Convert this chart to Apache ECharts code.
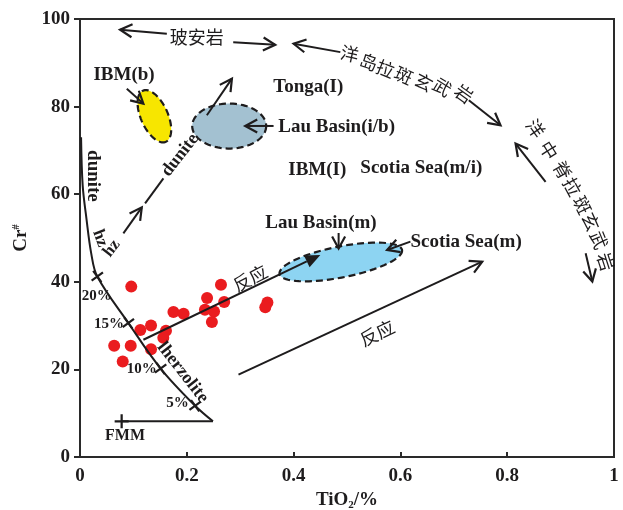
<!DOCTYPE html>
<html>
<head>
<meta charset="utf-8">
<script src="https://cdn.jsdelivr.net/npm/echarts@6/dist/echarts.min.js"></script>
<style>
html, body { margin: 0; padding: 0; background: #fff; }
#main { width: 623px; height: 510px; }
</style>
</head>
<body>
<div id="main"></div>
<script>
// 样品 TiO2(%) - Cr#
var sampleTiO2 = [0.096, 0.264, 0.238, 0.270, 0.175, 0.194, 0.234, 0.251, 0.247, 0.133, 0.113, 0.161, 0.156, 0.064, 0.095, 0.133, 0.080, 0.351, 0.347];
var sampleCr = [38.9, 39.3, 36.3, 35.4, 33.1, 32.7, 33.6, 33.2, 30.8, 30.0, 29.0, 28.8, 27.2, 25.4, 25.4, 24.6, 21.8, 35.3, 34.2];

// 部分熔融曲线 (FMM -> dunite)
var meltTiO2 = [0.249, 0.2156, 0.151, 0.0905, 0.0324, 0.021, 0.012, 0.005, 0.002];
var meltCr = [8.15, 11.7, 20.2, 30.6, 41.2, 46.5, 54.5, 62.0, 73.0];
var fmmLine = [[0.078, 8.15], [0.249, 8.15]];
// 熔融程度刻度
var meltMarkLabels = ["5%", "10%", "15%", "20%"];
var meltMarkTiO2 = [0.2156, 0.151, 0.0905, 0.0324];
var meltMarkCr = [11.7, 20.2, 30.6, 41.2];

var xTicks = [0, 0.2, 0.4, 0.6, 0.8, 1];
var yTicks = [0, 20, 40, 60, 80, 100];

// 区域椭圆: 中心(数据), 半轴(px), 旋转角
var ellipses = [
  { c: [0.1393, 77.8], a: 28, b: 13.5, rot: 65.9, color: "#f7e600" },
  { c: [0.2794, 75.56], a: 37, b: 22.5, rot: 0, color: "#a3c1d1" },
  { c: [0.4884, 44.53], a: 62.4, b: 15.5, rot: -11.1, color: "#8dd4f2" },
];

// 箭头: [x1, y1, x2, y2, 实心]
var arrows = [
  [0.0876, 84.1, 0.1187, 80.68, 0],
  [0.2376, 78.02, 0.2845, 86.38, 0],
  [0.3625, 75.58, 0.3094, 75.58, 0],
  [0.4843, 51.14, 0.4843, 47.6, 0],
  [0.6188, 49.16, 0.5751, 47.27, 0],
  [0.1187, 26.77, 0.45, 46.13, 1],
  [0.2968, 18.79, 0.7532, 44.6, 0],
  [0.0812, 51.07, 0.1157, 56.99, 0],
  [0.1626, 96.63, 0.075, 97.54, 0],
  [0.2869, 94.71, 0.3656, 94.12, 0],
  [0.4875, 92.44, 0.4, 94.35, 0],
  [0.7281, 81.44, 0.7875, 75.74, 0],
  [0.8719, 62.82, 0.8157, 71.57, 0],
  [0.9469, 46.51, 0.9594, 40.05, 0],
];
var duniteSeg = [[0.1219, 57.9], [0.1562, 63.6]];

var serif = "Liberation Serif";
var cjk = "Noto Sans CJK SC";
var ink = "#1e1c1d";

// 文字注记
var texts = [
  { v: [0.0825, 87.1], t: "IBM(b)" },
  { v: [0.3619, 84.46], t: "Tonga(I)", left: true },
  { v: [0.3713, 75.35], t: "Lau Basin(i/b)", left: true },
  { v: [0.39, 65.49], t: "IBM(I)", left: true },
  { v: [0.525, 65.95], t: "Scotia Sea(m/i)", left: true },
  { v: [0.3469, 53.42], t: "Lau Basin(m)", left: true },
  { v: [0.6188, 49.16], t: "Scotia Sea(m)", left: true },
  { v: [0.0313, 36.63], t: "20%", size: 15 },
  { v: [0.0544, 30.34], t: "15%", size: 15 },
  { v: [0.1156, 20.09], t: "10%", size: 15 },
  { v: [0.1828, 12.35], t: "5%", size: 15 },
  { v: [0.0844, 4.74], t: "FMM", size: 16 },
  { v: [0.1922, 19.3], t: "lherzolite", rot: -52, size: 18 },
  { v: [0.0249, 64.17], t: "dunite", rot: -90, size: 19 },
  { v: [0.0375, 49.93], t: "hz", rot: -70, size: 17 },
  { v: [0.0594, 47.65], t: "hz", rot: 52, size: 17 },
  { v: [0.1875, 68.91], t: "dunite", rot: 52, size: 18 },
  { v: [0.2188, 95.85], t: "玻安岩", cn: true },
  { v: [0.3188, 40.82], t: "反应", rot: 27, cn: true },
  { v: [0.5563, 28.29], t: "反应", rot: 25, cn: true },
];
var oibChars = ["洋", "岛", "拉", "斑", "玄", "武", "岩"];
var oibPos = [[0.505, 92.07, -12], [0.5406, 90.16, -18], [0.5719, 88.66, -22], [0.6062, 87.13, -25], [0.6437, 85.6, -28], [0.6782, 84.47, -32], [0.7187, 82.96, -36]];
var morbChars = ["洋", "中", "脊", "拉", "斑", "玄", "武", "岩"];
var morbPos = [[0.8532, 74.99, -55], [0.8781, 70.05, -58], [0.9032, 65.49, -60], [0.922, 61.69, -62], [0.9407, 57.52, -64], [0.9563, 53.71, -66], [0.9719, 49.54, -68], [0.9844, 44.6, -72]];

oibChars.forEach(function (c, i) {
  texts.push({ v: [oibPos[i][0], oibPos[i][1]], t: c, rot: oibPos[i][2], cn: true });
});
morbChars.forEach(function (c, i) {
  texts.push({ v: [morbPos[i][0], morbPos[i][1]], t: c, rot: morbPos[i][2], cn: true });
});

var chart = echarts.init(document.getElementById("main"));

function renderEllipse(params, api) {
  var e = ellipses[params.dataIndex];
  var c = api.coord([api.value(0), api.value(1)]);
  var th = (e.rot * Math.PI) / 180;
  var pts = [];
  for (var i = 0; i < 90; i++) {
    var t = (i / 90) * 2 * Math.PI;
    var ex = e.a * Math.cos(t), ey = e.b * Math.sin(t);
    pts.push([c[0] + ex * Math.cos(th) - ey * Math.sin(th), c[1] + ex * Math.sin(th) + ey * Math.cos(th)]);
  }
  return {
    type: "polygon",
    shape: { points: pts },
    style: { fill: e.color, stroke: ink, lineWidth: 2.2, lineDash: [7, 4] },
  };
}

function renderArrow(params, api) {
  var a = api.coord([api.value(0), api.value(1)]);
  var b = api.coord([api.value(2), api.value(3)]);
  var filled = api.value(4) === 1;
  var ang = Math.atan2(b[1] - a[1], b[0] - a[0]);
  var L = filled ? 15 : 12, W = 6.5;
  var bx = b[0] - L * Math.cos(ang), by = b[1] - L * Math.sin(ang);
  var l = [bx + W * Math.sin(ang), by - W * Math.cos(ang)];
  var r = [bx - W * Math.sin(ang), by + W * Math.cos(ang)];
  var kids = [{
    type: "line",
    shape: { x1: a[0], y1: a[1], x2: filled ? bx : b[0], y2: filled ? by : b[1] },
    style: { stroke: ink, lineWidth: 2 },
  }];
  if (filled) {
    kids.push({ type: "polygon", shape: { points: [b, l, r] }, style: { fill: ink } });
  } else {
    kids.push({ type: "polyline", shape: { points: [l, b, r] }, style: { stroke: ink, lineWidth: 2.2, fill: null } });
  }
  return { type: "group", children: kids };
}

var option = {
  animation: false,
  grid: {
    left: 80, right: 9, top: 19, bottom: 53,
    outerBoundsMode: "none",
    show: true, borderColor: "#2a2a2a", borderWidth: 2,
  },
  xAxis: {
    type: "value",
    min: xTicks[0], max: xTicks[xTicks.length - 1], interval: 0.2,
    name: "{a|TiO}{s|2}{a|/%}",
    nameLocation: "middle",
    nameGap: 31,
    nameTextStyle: {
      rich: {
        a: { fontFamily: serif, fontWeight: "bold", fontSize: 19, color: ink },
        s: { fontFamily: serif, fontWeight: "bold", fontSize: 11, color: ink, padding: [10, 0, 0, 0] },
      },
    },
    splitLine: { show: false },
    axisLine: { onZero: false, lineStyle: { color: "#2a2a2a", width: 2 } },
    axisTick: { inside: true, length: 5, lineStyle: { color: "#2a2a2a", width: 2 } },
    axisLabel: { margin: 10, fontFamily: serif, fontWeight: "bold", fontSize: 19, color: ink },
  },
  yAxis: {
    type: "value",
    min: yTicks[0], max: yTicks[yTicks.length - 1], interval: 20,
    name: "{a|Cr}{s|#}",
    nameLocation: "middle",
    nameGap: 41,
    nameTextStyle: {
      rich: {
        a: { fontFamily: serif, fontWeight: "bold", fontSize: 19, color: ink },
        s: { fontFamily: serif, fontWeight: "bold", fontSize: 11, color: ink, padding: [0, 0, 9, 0] },
      },
    },
    splitLine: { show: false },
    axisLine: { onZero: false, lineStyle: { color: "#2a2a2a", width: 2 } },
    axisTick: { length: 6, lineStyle: { color: "#2a2a2a", width: 2 } },
    axisLabel: { margin: 10, fontFamily: serif, fontWeight: "bold", fontSize: 19, color: ink },
  },
  series: [
    {
      name: "ellipse",
      type: "custom",
      renderItem: renderEllipse,
      data: ellipses.map(function (e) { return e.c; }),
      clip: false,
      silent: true,
      z: 1,
    },
    {
      name: "samples",
      type: "scatter",
      symbolSize: 12,
      itemStyle: { color: "#ea1c1f", opacity: 1 },
      data: sampleTiO2.map(function (x, i) { return [x, sampleCr[i]]; }),
      z: 2,
    },
    {
      name: "melt",
      type: "line",
      smooth: 0.35,
      symbol: "none",
      lineStyle: { color: ink, width: 2 },
      data: meltTiO2.map(function (x, i) { return [x, meltCr[i]]; }),
      z: 3,
    },
    {
      name: "fmm",
      type: "line",
      symbol: "none",
      lineStyle: { color: ink, width: 2 },
      data: fmmLine,
      z: 3,
    },
    {
      name: "dunite-seg",
      type: "line",
      symbol: "none",
      lineStyle: { color: ink, width: 2 },
      data: duniteSeg,
      z: 3,
    },
    {
      name: "marks",
      type: "scatter",
      symbol: "path://M0,4.2L10,4.2L10,5.8L0,5.8Z M4.2,0L5.8,0L5.8,10L4.2,10Z",
      symbolSize: 14,
      itemStyle: { color: ink, opacity: 1 },
      data: meltMarkTiO2.map(function (x, i) {
        return { value: [x, meltMarkCr[i]], name: meltMarkLabels[i], symbolRotate: 36 };
      }).concat([{ value: fmmLine[0], name: "FMM", symbolRotate: 0 }]),
      z: 4,
    },
    {
      name: "arrows",
      type: "custom",
      renderItem: renderArrow,
      data: arrows,
      clip: false,
      silent: true,
      z: 5,
    },
    {
      name: "texts",
      type: "scatter",
      symbolSize: 0,
      silent: true,
      itemStyle: { color: "rgba(0,0,0,0)", opacity: 1 },
      label: {
        show: true,
        formatter: "{b}",
        position: "inside",
        fontFamily: serif,
        fontWeight: "bold",
        fontSize: 19,
        color: ink,
        opacity: 1,
      },
      data: texts.map(function (d) {
        var lab = {};
        if (d.left) { lab.position = "right"; lab.distance = 0; }
        if (d.rot) lab.rotate = d.rot;
        if (d.size) lab.fontSize = d.size;
        if (d.cn) { lab.fontFamily = cjk; lab.fontWeight = "normal"; lab.fontSize = 18; }
        return { value: d.v, name: d.t, label: lab };
      }),
      z: 6,
    },
  ],
};

chart.setOption(option);
</script>
</body>
</html>
